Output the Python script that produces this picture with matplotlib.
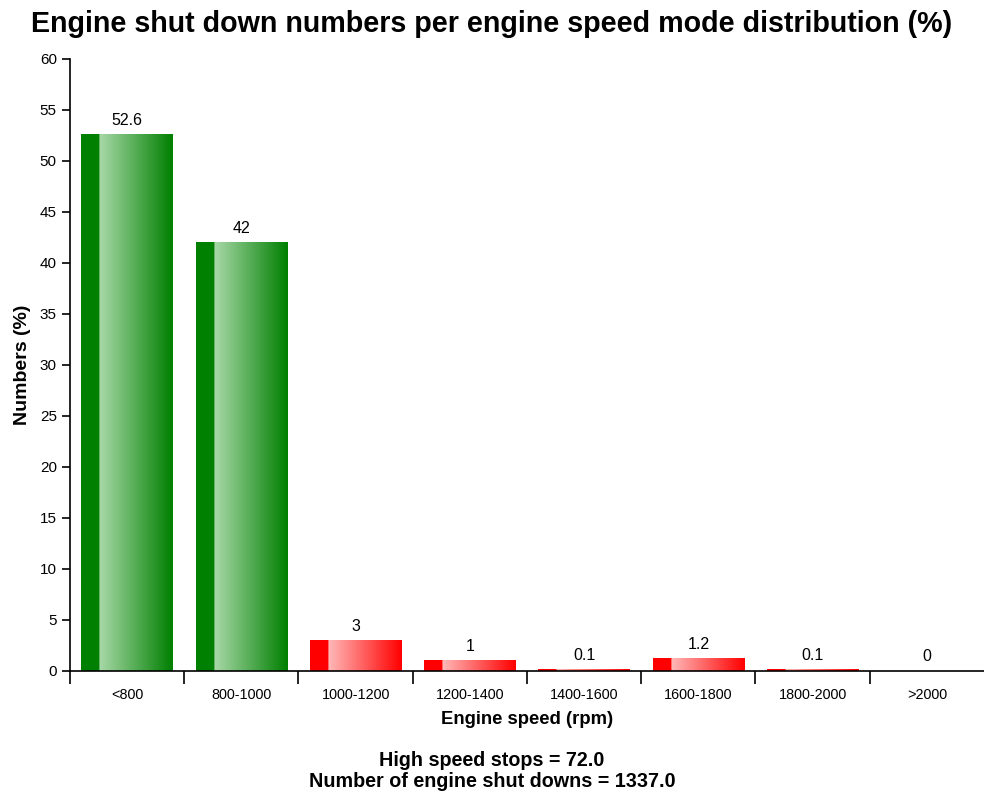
import numpy as np
import matplotlib
matplotlib.use("Agg")
import matplotlib.pyplot as plt
from matplotlib.colors import to_rgb

plt.rcParams['font.family'] = ['Liberation Sans', 'DejaVu Sans']

categories = ["<800", "800-1000", "1000-1200", "1200-1400", "1400-1600",
              "1600-1800", "1800-2000", ">2000"]
values = [52.6, 42, 3, 1, 0.1, 1.2, 0.1, 0]
value_labels = ["52.6", "42", "3", "1", "0.1", "1.2", "0.1", "0"]
is_low_speed = [True, True, False, False, False, False, False, False]

high_speed_stops = 72.0
n_shutdowns = 1337.0

GREEN_DARK, GREEN_LIGHT = "#008000", "#a8d8a8"
RED_DARK, RED_LIGHT = "#ff0000", "#ffb8b8"


def gradient_row(dark, light, n=200, solid=0.2):
    d = np.array(to_rgb(dark))
    l = np.array(to_rgb(light))
    t = np.linspace(0, 1, n)
    f = np.clip((t - solid) / (1 - solid), 0, 1)
    row = l[None, :] * (1 - f[:, None]) + d[None, :] * f[:, None]
    row[t < solid] = d
    return row[None, :, :]


fig = plt.figure(figsize=(9.84, 7.94), dpi=100)
ax = fig.add_axes([0.0711, 0.155, 0.9289, 0.771])

bar_w = 0.8
for i, (v, low) in enumerate(zip(values, is_low_speed)):
    img = gradient_row(GREEN_DARK, GREEN_LIGHT) if low else gradient_row(RED_DARK, RED_LIGHT)
    if v > 0:
        ax.imshow(img, extent=(i - bar_w / 2, i + bar_w / 2, 0, v),
                  aspect='auto', interpolation='bilinear', zorder=1)
    ax.text(i, v + 0.65, value_labels[i], ha='center', va='bottom', fontsize=11.5)

ax.set_xlim(-0.5, len(categories) - 0.5)
ax.set_ylim(0, 60)
ax.set_yticks(np.arange(0, 61, 5))
ax.set_xticks(range(len(categories)))
ax.set_xticklabels(categories, fontsize=10.4)
ax.set_xticks(np.arange(-0.5, len(categories) - 1, 1), minor=True)
ax.tick_params(axis='x', which='major', length=0, pad=12)
ax.tick_params(axis='x', which='minor', length=9, width=1.2)
ax.tick_params(axis='y', length=6, width=1.2, labelsize=11)

for s in ['top', 'right']:
    ax.spines[s].set_visible(False)
ax.spines['left'].set_linewidth(1.2)
ax.spines['bottom'].set_linewidth(1.2)

ax.set_xlabel("Engine speed (rpm)", fontsize=13.3, fontweight='bold', labelpad=7)
ax.set_ylabel("Numbers (%)", fontsize=14, fontweight='bold', labelpad=6)

fig.text(0.5, 0.970, "Engine shut down numbers per engine speed mode distribution (%)",
         ha='center', va='center', fontsize=20.6, fontweight='bold')
fig.text(0.5, 0.029,
         f"High speed stops = {high_speed_stops:.1f}\nNumber of engine shut downs = {n_shutdowns:.1f}",
         ha='center', va='center', fontsize=14.2, fontweight='bold', linespacing=1.1)

fig.savefig("out.png", dpi=100)
